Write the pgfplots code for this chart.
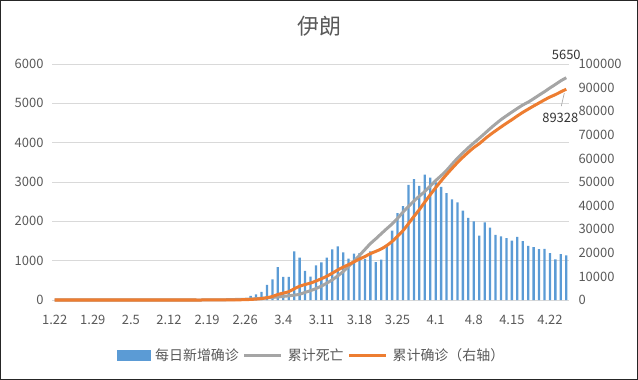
\documentclass[border=0pt]{standalone}
\usepackage{pgfplots}
\pgfplotsset{compat=1.18}
\usepackage{pgfplotstable}
\usepackage{fontspec}
\setmainfont{Noto Sans CJK SC}
\definecolor{cblue}{HTML}{5B9BD5}
\definecolor{cgray}{HTML}{A5A5A5}
\definecolor{corange}{HTML}{ED7D31}
\definecolor{ctext}{HTML}{595959}
\definecolor{cgrid}{HTML}{D9D9D9}

\pgfplotstableread{
day new deaths total
0 0 0 0
1 0 0 0
2 0 0 0
3 0 0 0
4 0 0 0
5 0 0 0
6 0 0 0
7 0 0 0
8 0 0 0
9 0 0 0
10 0 0 0
11 0 0 0
12 0 0 0
13 0 0 0
14 0 0 0
15 0 0 0
16 0 0 0
17 0 0 0
18 0 0 0
19 0 0 0
20 0 0 0
21 0 0 0
22 0 0 0
23 0 0 0
24 0 0 0
25 0 0 0
26 0 0 0
27 0 0 0
28 2 2 2
29 3 2 5
30 13 4 18
31 10 5 28
32 15 8 43
33 18 12 61
34 34 16 95
35 44 19 139
36 106 26 245
37 143 34 388
38 205 43 593
39 385 54 978
40 523 66 1501
41 835 77 2336
42 586 92 2922
43 591 107 3513
44 1234 124 4747
45 1076 145 5823
46 743 194 6566
47 595 237 7161
48 881 291 8042
49 958 354 9000
50 1075 429 10075
51 1289 514 11364
52 1365 611 12729
53 1209 724 13938
54 1053 853 14991
55 1178 988 16169
56 1192 1135 17361
57 1046 1284 18407
58 1237 1433 19644
59 966 1556 20610
60 1028 1685 21638
61 1411 1812 23049
62 1762 1934 24811
63 2206 2077 27017
64 2389 2234 29406
65 2926 2378 32332
66 3076 2517 35408
67 2901 2640 38309
68 3186 2757 41495
69 3110 2898 44605
70 2988 3036 47593
71 2875 3160 50468
72 2715 3294 53183
73 2560 3452 55743
74 2483 3603 58226
75 2274 3739 60500
76 2089 3872 62589
77 1997 3993 64586
78 1634 4110 66220
79 1972 4232 68192
80 1837 4357 70029
81 1657 4474 71686
82 1617 4585 73303
83 1574 4683 74877
84 1512 4777 76389
85 1606 4869 77995
86 1499 4958 79494
87 1374 5031 80868
88 1343 5118 82211
89 1294 5209 83505
90 1297 5297 84802
91 1194 5391 85996
92 1030 5481 87026
93 1168 5574 88194
94 1134 5650 89328
}\data

\pgfplotsset{
  common/.style={
    at={(52bp,80bp)}, anchor=south west,
    scale only axis, width=517bp, height=236bp,
    xmin=-0.5, xmax=94.5,
    clip=false,
    major tick length=0pt,
    scaled y ticks=false,
    yticklabel={\pgfmathprintnumber[fixed,precision=0,set thousands separator={},assume math mode=true]{\tick}},
    ticklabel style={font=\fontsize{13}{15}\selectfont, text=ctext},
  }
}

\begin{document}
\begin{tikzpicture}
\useasboundingbox (0bp,0bp) rectangle (638bp,380bp);
\draw[black!85, line width=1.2bp] (0.6bp,0.6bp) rectangle (637.4bp,379.4bp);
\node[text=ctext, font=\fontsize{22}{26}\selectfont] at (319bp,354bp) {伊朗};

\begin{axis}[common,
  ymin=0, ymax=6000, ytick={0,1000,...,6000},
  ymajorgrids, grid style={cgrid, line width=0.75bp},
  axis x line*=bottom, axis y line*=left,
  x axis line style={cgrid, line width=0.75bp, -},
  y axis line style={draw=none},
  xtick={0,7,...,91},
  xticklabels={1.22,1.29,2.5,2.12,2.19,2.26,3.4,3.11,3.18,3.25,4.1,4.8,4.15,4.22},
  xticklabel style={yshift=-12bp},
  yticklabel style={xshift=-5bp},
]
\addplot[ybar, bar width=2.3bp, bar shift=0pt, fill=cblue, draw=none] table[x=day,y=new]{\data};
\addplot[cgray, line width=3bp, smooth, no markers, line join=round] table[x=day,y=deaths]{\data};
\node[text=black!80, font=\fontsize{13}{15}\selectfont] at ([yshift=23bp]axis cs:94,5650) {5650};
\end{axis}

\begin{axis}[common,
  ymin=0, ymax=100000, ytick={0,10000,...,100000},
  axis y line*=right, axis x line=none,
  y axis line style={draw=none},
  yticklabel style={xshift=6bp},
  legend columns=3,
  legend style={at={(0.5,-0.234)}, anchor=center, draw=none, fill=none,
    inner sep=0pt, outer sep=0pt,
    font=\fontsize{14}{16}\selectfont, text=ctext,
    nodes={inner sep=0pt},
    /tikz/every odd column/.append style={column sep=5bp},
    /tikz/every even column/.append style={column sep=4bp}},
]
\addlegendimage{legend image code/.code={\fill[cblue] (0bp,-5bp) rectangle (33bp,5bp);}}
\addlegendentry{每日新增确诊}
\addlegendimage{legend image code/.code={\draw[cgray, line width=3bp] (0bp,0bp) -- (37bp,0bp);}}
\addlegendentry{累计死亡}
\addplot[corange, line width=3bp, smooth, no markers, line join=round,
  legend image code/.code={\draw[corange, line width=3bp] (0bp,0bp) -- (37bp,0bp);}] table[x=day,y=total]{\data};
\addlegendentry{累计确诊（右轴）}
\draw[cgray, line width=0.6bp] ([xshift=-2bp,yshift=-4bp]axis cs:94,89328) -- ([xshift=-5bp,yshift=-17bp]axis cs:94,89328);
\node[text=black!80, font=\fontsize{13}{15}\selectfont] at ([xshift=-6bp,yshift=-29bp]axis cs:94,89328) {89328};
\end{axis}
\end{tikzpicture}
\end{document}
